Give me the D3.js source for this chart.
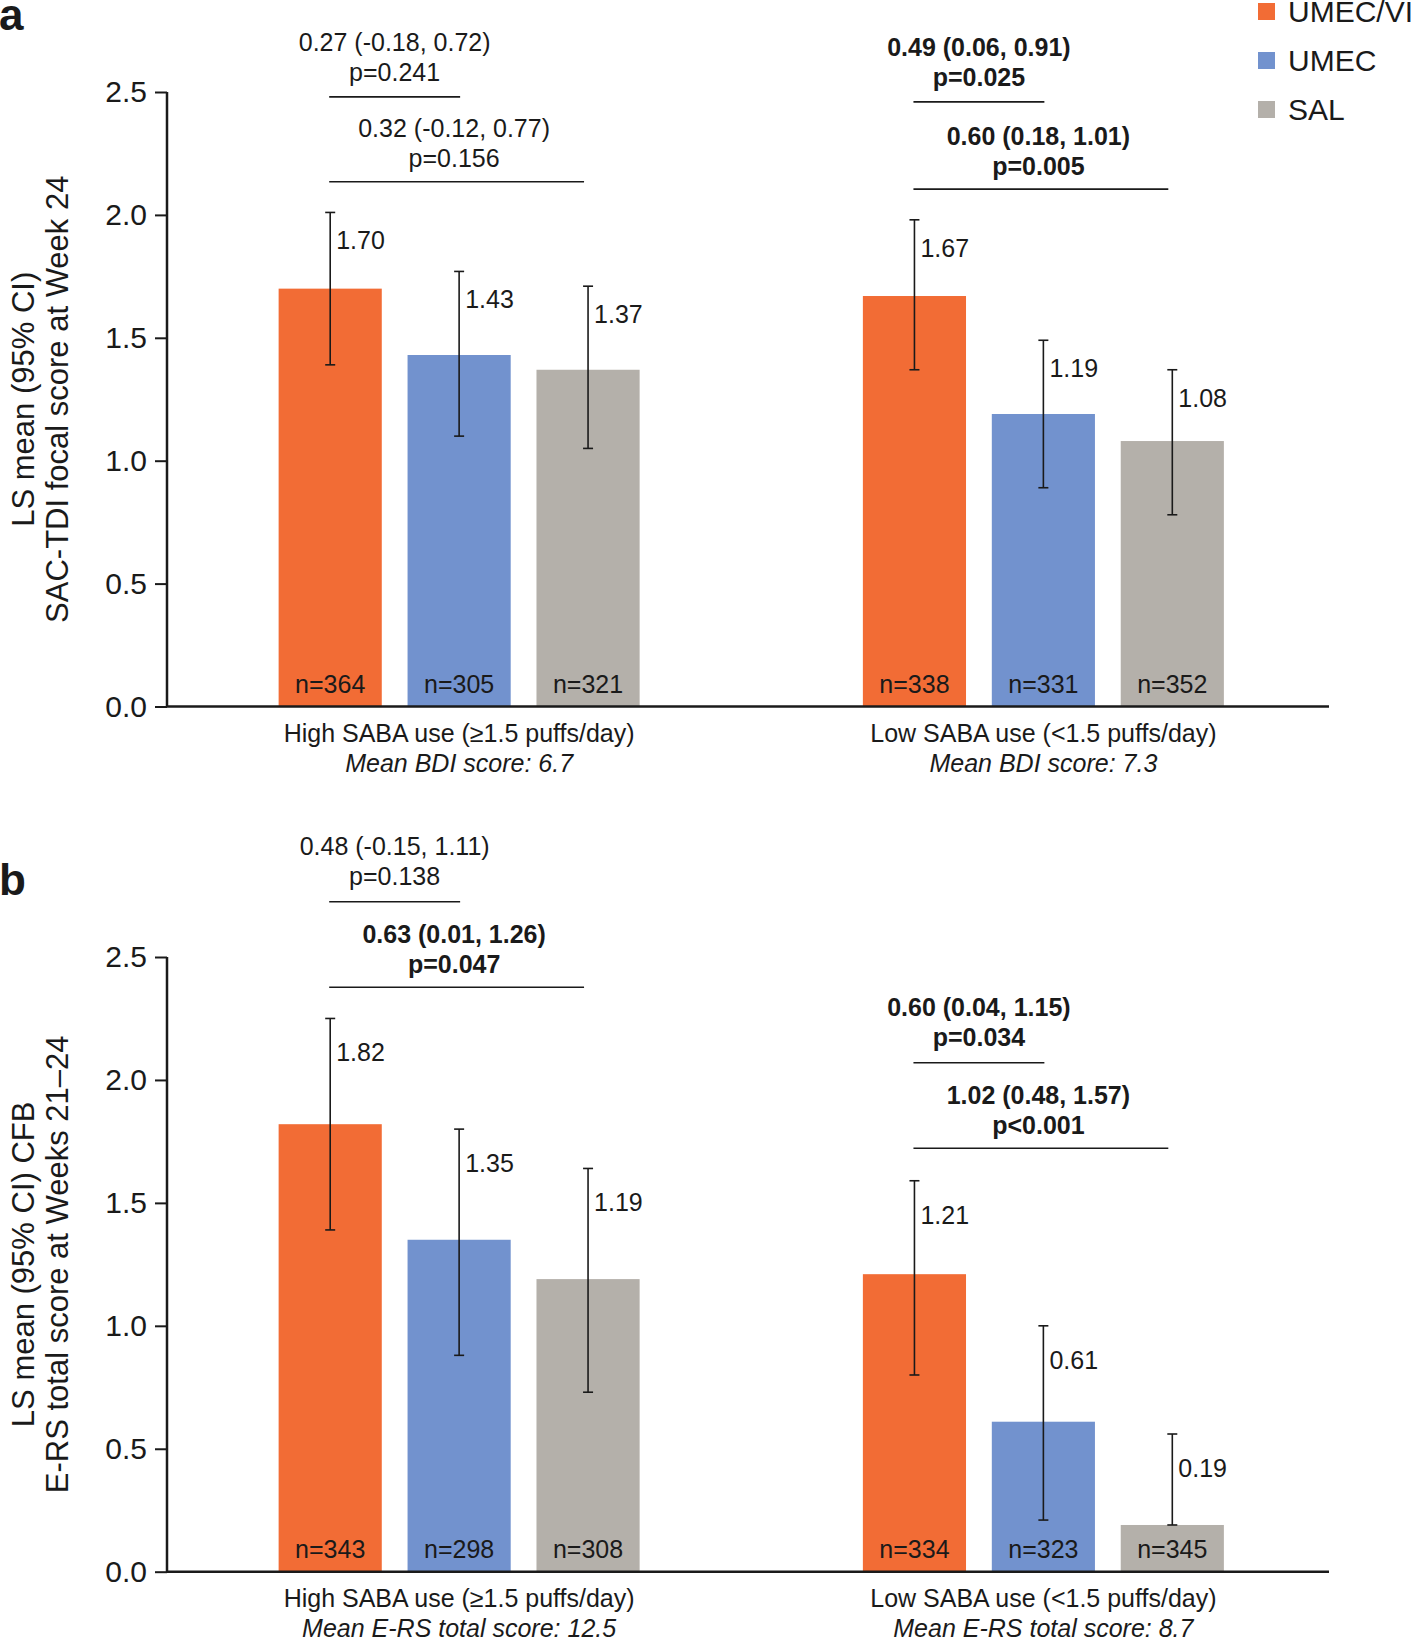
<!DOCTYPE html>
<html><head><meta charset="utf-8">
<script src="https://cdn.jsdelivr.net/npm/d3@7"></script>
<style>
body{margin:0;background:#fff}
svg{display:block}
text{font-family:"Liberation Sans",Arial,Helvetica,sans-serif;fill:#1a1a1a}
</style>
</head><body><svg id="chart" width="1416" height="1639"></svg>
<script>
// ---------- data ----------
const groups = ["High SABA use (\u22651.5 puffs/day)", "Low SABA use (<1.5 puffs/day)"];
const treatments = ["UMEC/VI", "UMEC", "SAL"];
const colors = ["#F26C35", "#7292CE", "#B4B0AA"];
const yTicks = [0, 0.5, 1.0, 1.5, 2.0, 2.5];

// Panel a: SAC-TDI
const aMeans = [[1.70, 1.43, 1.37], [1.67, 1.19, 1.08]];
const aLower = [[1.39, 1.10, 1.05], [1.37, 0.89, 0.78]];
const aUpper = [[2.01, 1.77, 1.71], [1.98, 1.49, 1.37]];
const aN = [["n=364", "n=305", "n=321"], ["n=338", "n=331", "n=352"]];
const aSubtitles = ["Mean BDI score: 6.7", "Mean BDI score: 7.3"];
const aYTitle = ["LS mean (95% CI)", "SAC-TDI focal score at Week 24"];
const aDiff = [["0.27 (-0.18, 0.72)", "0.32 (-0.12, 0.77)"], ["0.49 (0.06, 0.91)", "0.60 (0.18, 1.01)"]];
const aP = [["p=0.241", "p=0.156"], ["p=0.025", "p=0.005"]];
const aSig = [[false, false], [true, true]];
const aLevel = [[2.48, 2.135], [2.46, 2.105]];

// Panel b: E-RS
const bMeans = [[1.82, 1.35, 1.19], [1.21, 0.61, 0.19]];
const bLower = [[1.39, 0.88, 0.73], [0.80, 0.21, 0.19]];
const bUpper = [[2.25, 1.80, 1.64], [1.59, 1.00, 0.56]];
const bN = [["n=343", "n=298", "n=308"], ["n=334", "n=323", "n=345"]];
const bSubtitles = ["Mean E-RS total score: 12.5", "Mean E-RS total score: 8.7"];
const bYTitle = ["LS mean (95% CI) CFB", "E-RS total score at Weeks 21\u201324"];
const bDiff = [["0.48 (-0.15, 1.11)", "0.63 (0.01, 1.26)"], ["0.60 (0.04, 1.15)", "1.02 (0.48, 1.57)"]];
const bP = [["p=0.138", "p=0.047"], ["p=0.034", "p<0.001"]];
const bSig = [[false, true], [true, true]];
const bLevel = [[2.725, 2.377], [2.07, 1.722]];

// ---------- layout ----------
const svg = d3.select("#chart");
const axisX0 = 167, axisX1 = 1329;

const x0 = d3.scalePoint().domain(groups).range([167, 1335.5]).padding(0.5);
const x1 = d3.scaleBand().domain(treatments).range([-180.5, 180.5]).paddingInner(0.2).paddingOuter(0);

function drawPanel(cfg) {
  const y = d3.scaleLinear().domain([0, 2.5]).range([cfg.yBottom, cfg.yTop]);
  const g = svg.append("g");

  // bars
  groups.forEach((grp, gi) => {
    treatments.forEach((t, ti) => {
      const bx = x0(grp) + x1(t);
      g.append("rect")
        .attr("x", bx).attr("y", y(cfg.means[gi][ti]))
        .attr("width", x1.bandwidth())
        .attr("height", y(0) - y(cfg.means[gi][ti]))
        .attr("fill", colors[ti]);
    });
  });

  // error bars + labels
  groups.forEach((grp, gi) => {
    treatments.forEach((t, ti) => {
      const cx = x0(grp) + x1(t) + x1.bandwidth() / 2;
      const lo = y(cfg.lower[gi][ti]), hi = y(cfg.upper[gi][ti]);
      g.append("line").attr("x1", cx).attr("x2", cx).attr("y1", lo).attr("y2", hi)
        .attr("stroke", "#1a1a1a").attr("stroke-width", 1.6);
      [lo, hi].forEach(v => g.append("line").attr("x1", cx - 5).attr("x2", cx + 5)
        .attr("y1", v).attr("y2", v).attr("stroke", "#1a1a1a").attr("stroke-width", 1.6));
      g.append("text").attr("x", cx + 6).attr("y", hi + cfg.labelDy).attr("dy", "0.35em")
        .attr("font-size", 25).text(d3.format(".2f")(cfg.means[gi][ti]));
      g.append("text").attr("x", cx).attr("y", y(0) - 22).attr("dy", "0.35em")
        .attr("text-anchor", "middle").attr("font-size", 25).text(cfg.n[gi][ti]);
    });
  });

  // y axis
  const ya = d3.axisLeft(y).tickValues(yTicks).tickFormat(d3.format(".1f")).tickSize(12).tickPadding(8);
  const ag = g.append("g").attr("transform", `translate(${axisX0},0)`).call(ya);
  ag.select(".domain").attr("stroke", "#1a1a1a").attr("stroke-width", 2.5).attr("d", `M0,${cfg.yTop}V${cfg.yBottom}`);
  ag.selectAll(".tick line").attr("stroke", "#1a1a1a").attr("stroke-width", 2);
  ag.selectAll(".tick text").attr("font-size", 30).attr("fill", "#1a1a1a")
    .style("font-family", '"Liberation Sans",Arial,sans-serif');

  // x axis baseline
  g.append("line").attr("x1", axisX0 - 1).attr("x2", axisX1).attr("y1", y(0)).attr("y2", y(0))
    .attr("stroke", "#1a1a1a").attr("stroke-width", 2.5);

  // category labels
  groups.forEach((grp, gi) => {
    g.append("text").attr("x", x0(grp)).attr("y", y(0) + 27).attr("dy", "0.35em")
      .attr("text-anchor", "middle").attr("font-size", 25).text(grp);
    g.append("text").attr("x", x0(grp)).attr("y", y(0) + 57).attr("dy", "0.35em")
      .attr("text-anchor", "middle").attr("font-size", 25).attr("font-style", "italic")
      .text(cfg.subtitles[gi]);
  });

  // comparison brackets
  groups.forEach((grp, gi) => {
    [1, 2].forEach((to, k) => {
      const xa = x0(grp) + x1(treatments[0]) + x1.bandwidth() / 2;
      const xb = x0(grp) + x1(treatments[to]) + x1.bandwidth() / 2;
      const ly = y(cfg.level[gi][k]);
      g.append("line").attr("x1", xa - 1).attr("x2", xb - (k === 1 ? 4 : -1)).attr("y1", ly).attr("y2", ly)
        .attr("stroke", "#1a1a1a").attr("stroke-width", 1.6);
      const mx = (xa + xb) / 2 - (k === 1 ? 5 : 0);
      const fw = cfg.sig[gi][k] ? "bold" : "normal";
      g.append("text").attr("x", mx).attr("y", ly - (k === 1 ? 53 : 55)).attr("dy", "0.35em")
        .attr("text-anchor", "middle").attr("font-size", 25).attr("font-weight", fw)
        .text(cfg.diff[gi][k]);
      g.append("text").attr("x", mx).attr("y", ly - (k === 1 ? 23 : 25)).attr("dy", "0.35em")
        .attr("text-anchor", "middle").attr("font-size", 25).attr("font-weight", fw)
        .text(cfg.p[gi][k]);
    });
  });

  // y title
  const yc = (cfg.yTop + cfg.yBottom) / 2;
  [23, 57.5].forEach((tx, i) => {
    g.append("text").attr("transform", `translate(${tx},${yc}) rotate(-90)`).attr("dy", "0.35em")
      .attr("text-anchor", "middle").attr("font-size", 31).text(cfg.yTitle[i]);
  });

  // panel letter
  g.append("text").attr("x", -1).attr("y", cfg.letterY).attr("font-size", 44)
    .attr("font-weight", "bold").text(cfg.letter);
}

drawPanel({letter: "a", letterY: 30, yTop: 92, yBottom: 706.5, labelDy: 28,
  means: aMeans, lower: aLower, upper: aUpper, n: aN, subtitles: aSubtitles, yTitle: aYTitle,
  diff: aDiff, p: aP, sig: aSig, level: aLevel});
drawPanel({letter: "b", letterY: 895, yTop: 957, yBottom: 1571.7, labelDy: 34,
  means: bMeans, lower: bLower, upper: bUpper, n: bN, subtitles: bSubtitles, yTitle: bYTitle,
  diff: bDiff, p: bP, sig: bSig, level: bLevel});

// legend
const lg = svg.append("g");
treatments.forEach((t, i) => {
  const ly = 11.5 + i * 49;
  lg.append("rect").attr("x", 1258).attr("y", ly - 8.5).attr("width", 17).attr("height", 17).attr("fill", colors[i]);
  lg.append("text").attr("x", 1288).attr("y", ly).attr("dy", "0.35em").attr("font-size", 30).text(t);
});
</script>
</body></html>
